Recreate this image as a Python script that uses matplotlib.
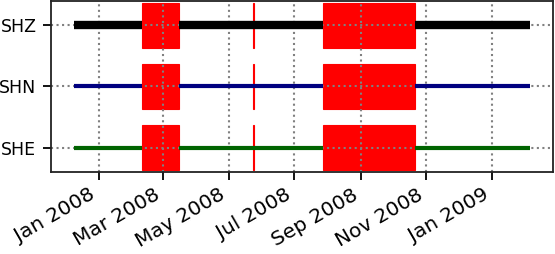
import datetime as dt
import matplotlib
matplotlib.use("Agg")
import matplotlib.pyplot as plt
import matplotlib.dates as mdates

channels = ["SHE", "SHN", "SHZ"]
colors = ["darkgreen", "navy", "black"]
widths = [3, 3, 6]

data_start = dt.datetime(2007, 12, 9)
data_end = dt.datetime(2009, 2, 5, 12)

# gaps (start, end), the same for every channel
gaps = [
    (dt.datetime(2008, 2, 10, 12), dt.datetime(2008, 3, 15, 12)),
    (dt.datetime(2008, 5, 24), dt.datetime(2008, 5, 25)),
    (dt.datetime(2008, 7, 27, 16), dt.datetime(2008, 10, 21, 12)),
]

fig = plt.figure(figsize=(5.55, 2.54), dpi=100)
ax = fig.add_axes([0.092, 0.323, 0.904, 0.673])

for i, (ch, c, lw) in enumerate(zip(channels, colors, widths)):
    # data segments between the big gaps
    t0 = data_start
    for gs, ge in gaps:
        if (ge - gs).days >= 2:
            ax.plot([t0, gs], [i, i], color=c, lw=lw, solid_capstyle="butt", zorder=3)
            t0 = ge
    ax.plot([t0, data_end], [i, i], color=c, lw=lw, solid_capstyle="butt", zorder=3)
    for gs, ge in gaps:
        x0 = mdates.date2num(gs)
        w = mdates.date2num(ge) - x0
        ax.add_patch(plt.Rectangle((x0, i - 0.365), w, 0.73, facecolor="red",
                                   edgecolor="red", lw=0.8, zorder=1))

ax.autoscale_view()
ax.set_ylim(-0.4, 2.4)
ax.set_yticks(range(len(channels)))
ax.set_yticklabels(channels)

ax.xaxis.set_major_locator(mdates.MonthLocator(bymonth=[1, 3, 5, 7, 9, 11]))
ax.xaxis.set_major_formatter(mdates.DateFormatter("%b %Y"))
for lab in ax.get_xticklabels():
    lab.set_rotation(30)
    lab.set_ha("right")

ax.tick_params(length=5.5, width=1.3)
ax.tick_params(axis="x", labelsize=14.5, pad=4)
ax.tick_params(axis="y", labelsize=12.5, pad=5)
for sp in ax.spines.values():
    sp.set_linewidth(1.3)
    sp.set_color("#222222")
ax.grid(True, color="gray", linestyle=":", linewidth=1.5)

fig.savefig("out.png", dpi=100)
